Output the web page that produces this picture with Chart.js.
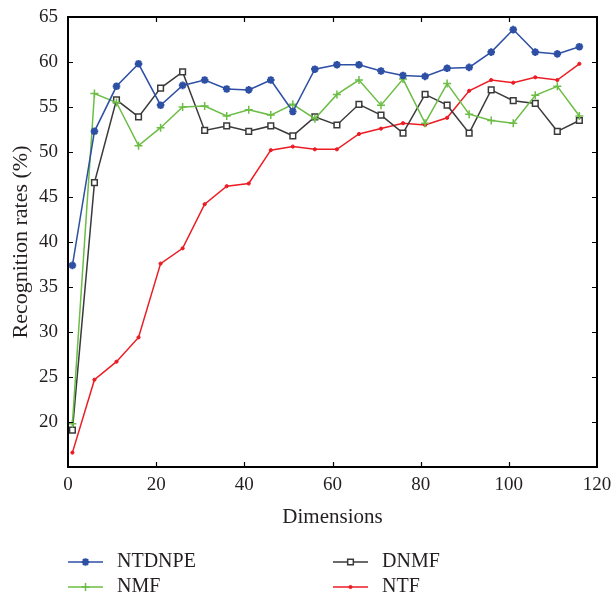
<!DOCTYPE html>
<html>
<head>
<meta charset="utf-8">
<script src="https://cdn.jsdelivr.net/npm/chart.js@4/dist/chart.umd.min.js"></script>
<style>
  html, body { margin: 0; padding: 0; background: #fff; }
  #wrap { width: 614px; height: 598px; }
</style>
</head>
<body>
<div id="wrap"><canvas id="c" width="614" height="598"></canvas></div>
<script>
// ---- data ----
const dimensions = [1, 6, 11, 16, 21, 26, 31, 36, 41, 46, 51, 56, 61, 66, 71, 76, 81, 86, 91, 96, 101, 106, 111, 116];
const ntdnpe = [37.4, 52.3, 57.3, 59.8, 55.2, 57.4, 58.0, 57.0, 56.9, 58.0, 54.5, 59.2, 59.7, 59.7, 59.0, 58.5, 58.4, 59.3, 59.4, 61.1, 63.6, 61.1, 60.9, 61.7];
const nmf    = [19.8, 56.5, 55.5, 50.7, 52.7, 55.0, 55.1, 54.0, 54.7, 54.1, 55.3, 53.7, 56.4, 58.0, 55.2, 58.1, 53.2, 57.6, 54.2, 53.5, 53.2, 56.3, 57.3, 54.0];
const dnmf   = [19.1, 46.6, 55.8, 53.9, 57.1, 58.9, 52.4, 52.9, 52.3, 52.9, 51.8, 53.9, 53.0, 55.3, 54.1, 52.1, 56.4, 55.2, 52.1, 56.9, 55.7, 55.4, 52.3, 53.5];
const ntf    = [16.6, 24.7, 26.7, 29.4, 37.6, 39.3, 44.2, 46.2, 46.5, 50.2, 50.6, 50.3, 50.3, 52.0, 52.6, 53.2, 53.0, 53.8, 56.8, 58.0, 57.7, 58.3, 58.0, 59.8];
const seriesNames = ['NTDNPE', 'NMF', 'DNMF', 'NTF'];
const xTitle = 'Dimensions';
const yTitle = 'Recognition rates (%)';

const FONT = "'Liberation Serif', 'Times New Roman', serif";
const TEXT = '#231f20';

function pts(vals) { return dimensions.map((d, i) => ({ x: d, y: vals[i] })); }

const datasets = [
  { label: seriesNames[0], data: pts(ntdnpe), borderColor: '#2d4fa4', backgroundColor: '#2d4fa4',
    borderWidth: 1.5, pointStyle: 'star', pointRadius: 3.8, pointBorderWidth: 2.2, legendCol: 0, legendRow: 0 },
  { label: seriesNames[1], data: pts(nmf), borderColor: '#6cbd45', backgroundColor: '#6cbd45',
    borderWidth: 1.5, pointStyle: 'cross', pointRadius: 4, pointBorderWidth: 1.5, legendCol: 0, legendRow: 1 },
  { label: seriesNames[2], data: pts(dnmf), borderColor: '#3a3a3a', backgroundColor: '#ffffff',
    borderWidth: 1.5, pointStyle: 'rect', pointRadius: 4, pointBorderWidth: 1.5, legendCol: 1, legendRow: 0 },
  { label: seriesNames[3], data: pts(ntf), borderColor: '#ec1c24', backgroundColor: '#ec1c24',
    borderWidth: 1.5, pointStyle: 'circle', pointRadius: 1.6, pointBorderWidth: 1, legendCol: 1, legendRow: 1 }
];

// frame + inward ticks
const framePlugin = {
  id: 'frame',
  afterDatasetsDraw(chart) {
    const { ctx, chartArea: a, scales } = chart;
    ctx.save();
    ctx.strokeStyle = '#000';
    ctx.lineWidth = 1.2;
    const L = 5;
    ctx.beginPath();
    scales.x.ticks.forEach(t => {
      const px = Math.round(scales.x.getPixelForValue(t.value)) + 0.5;
      if (px <= a.left + 1 || px >= a.right - 1) return;
      ctx.moveTo(px, a.bottom); ctx.lineTo(px, a.bottom - L);
      ctx.moveTo(px, a.top); ctx.lineTo(px, a.top + L);
    });
    scales.y.ticks.forEach(t => {
      const py = Math.round(scales.y.getPixelForValue(t.value)) + 0.5;
      if (py <= a.top + 1 || py >= a.bottom - 1) return;
      ctx.moveTo(a.left, py); ctx.lineTo(a.left + L, py);
      ctx.moveTo(a.right, py); ctx.lineTo(a.right - L, py);
    });
    ctx.stroke();
    ctx.lineWidth = 2;
    ctx.strokeRect(a.left, a.top, a.right - a.left, a.bottom - a.top);
    ctx.restore();
  }
};

// custom two-column legend below the chart
const legendPlugin = {
  id: 'legend2col',
  afterDraw(chart) {
    const { ctx } = chart;
    const colX = [68, 333];
    const rowY = [562, 587];
    const lineLen = 35;
    ctx.save();
    chart.data.datasets.forEach(ds => {
      const x0 = colX[ds.legendCol], y = rowY[ds.legendRow];
      ctx.strokeStyle = ds.borderColor;
      ctx.lineWidth = ds.borderWidth;
      ctx.beginPath(); ctx.moveTo(x0, y); ctx.lineTo(x0 + lineLen, y); ctx.stroke();
      ctx.fillStyle = ds.backgroundColor;
      ctx.strokeStyle = ds.borderColor;
      ctx.lineWidth = ds.pointBorderWidth;
      Chart.helpers.drawPoint(ctx, { pointStyle: ds.pointStyle, radius: ds.pointRadius, rotation: 0, borderWidth: ds.pointBorderWidth }, x0 + lineLen / 2, y);
      ctx.fillStyle = TEXT;
      ctx.font = "20px " + FONT;
      ctx.textBaseline = 'middle';
      ctx.textAlign = 'left';
      ctx.fillText(ds.label, x0 + 49, y);
    });
    ctx.restore();
  }
};

new Chart(document.getElementById('c'), {
  type: 'line',
  data: { datasets },
  options: {
    responsive: false,
    animation: false,
    devicePixelRatio: 1,
    layout: { padding: { top: 17, right: 17, left: 0, bottom: 0 } },
    elements: { line: { tension: 0 } },
    plugins: { legend: { display: false }, tooltip: { enabled: false } },
    scales: {
      x: {
        type: 'linear', min: 0, max: 120,
        grid: { display: true, drawOnChartArea: false, drawTicks: true, tickLength: 7, color: 'rgba(0,0,0,0)' },
        border: { display: false },
        ticks: { stepSize: 20, padding: 0, color: TEXT, font: { family: FONT, size: 19 }, maxRotation: 0 },
        title: { display: true, text: xTitle, color: TEXT, font: { family: FONT, size: 21 }, padding: { top: 0, bottom: 68 } },
        afterFit(s) { s.height = 131; }
      },
      y: {
        type: 'linear', min: 15, max: 65,
        grid: { display: true, drawOnChartArea: false, drawTicks: true, tickLength: 10, color: 'rgba(0,0,0,0)' },
        border: { display: false },
        ticks: { stepSize: 5, padding: 0, color: TEXT, font: { family: FONT, size: 19 },
          callback: v => (v === 15 ? '' : v) },
        title: { display: true, text: yTitle, color: TEXT, font: { family: FONT, size: 22 }, padding: { top: 8, bottom: 0 } },
        afterFit(s) { s.width = 68; }
      }
    }
  },
  plugins: [framePlugin, legendPlugin]
});
</script>
</body>
</html>
